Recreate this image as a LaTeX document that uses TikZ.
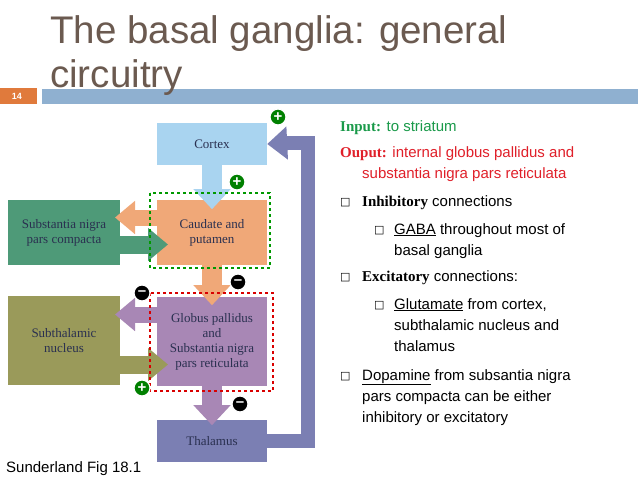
\documentclass[tikz,border=0pt]{standalone}
\usepackage{fontspec}
\setmainfont{Liberation Sans}
\newfontfamily\serifb{Liberation Serif}
\newfontfamily\dejav{DejaVu Sans}
\newcommand\myul[1]{\underline{#1}}
\usetikzlibrary{arrows.meta}
\definecolor{titlec}{HTML}{6B5A50}
\definecolor{barc}{HTML}{8FB0D0}
\definecolor{numc}{HTML}{E07A3C}
\definecolor{cortc}{HTML}{A9D4F0}
\definecolor{caudc}{HTML}{F0A878}
\definecolor{sncc}{HTML}{4E9A78}
\definecolor{gpc}{HTML}{A887B5}
\definecolor{stnc}{HTML}{9A9A5A}
\definecolor{thalc}{HTML}{7B7FB3}
\definecolor{txtg}{HTML}{1A9A4A}
\definecolor{txtr}{HTML}{E0202A}
\definecolor{labc}{HTML}{2A3050}
\begin{document}
\begin{tikzpicture}[x=1pt,y=-1pt,
  region/.style={draw=none,minimum width=110pt,align=center,inner sep=0pt,font=\serifb\fontsize{13}{15}\selectfont,text=labc},
  fat/.style={line width=20pt,-{Triangle[length=20pt,width=36pt]}},
  fatl/.style={line width=15pt,-{Triangle[length=20pt,width=32pt]}},
  plus/.style={circle,fill=green!50!black,draw=white,line width=1.2pt,minimum size=16pt,inner sep=0pt,text=white,font=\bfseries\fontsize{15}{15}\selectfont},
  minus/.style={circle,fill=black,draw=white,line width=1.2pt,minimum size=16pt,inner sep=0pt,text=white,font=\bfseries\fontsize{15}{15}\selectfont},
  txt/.style={anchor=base west,inner sep=0pt,font=\fontsize{15}{18}\selectfont},
  bul/.style={anchor=base west,inner sep=0pt,font=\dejav\fontsize{11}{12}\selectfont}]
\useasboundingbox (0,0) rectangle (638,479);
\fill[white] (0,0) rectangle (638,479);
% header
\node[anchor=base west,inner sep=0pt,text=titlec,font=\fontsize{38.5}{44}\selectfont] (t1) at (50,43) {The basal ganglia: general};
\fill[barc] (42,89) rectangle (638,104);
\fill[numc] (0,88) rectangle (37,104);
\node[text=white,font=\bfseries\fontsize{9}{9}\selectfont] (num) at (17,96.5) {14};
\node[anchor=base west,inner sep=0pt,text=titlec,font=\fontsize{38.5}{44}\selectfont] (t2) at (50,87) {circuitry};
% boxes
\node[region,fill=cortc,minimum height=42pt] (cortex) at (212,144) {Cortex};
\node[region,fill=caudc,minimum height=65pt] (caud) at (212,232.5) {Caudate and\\putamen};
\node[region,fill=sncc,minimum width=112pt,minimum height=65pt] (snc) at (64,232.5) {Substantia nigra\\pars compacta};
\node[region,fill=gpc,minimum height=89pt] (gp) at (212,341.5) {Globus pallidus\\and\\Substantia nigra\\pars reticulata};
\node[region,fill=stnc,minimum width=112pt,minimum height=89pt] (stn) at (64,340.5) {Subthalamic\\nucleus};
\node[region,fill=thalc,minimum height=42pt] (thal) at (212,441) {Thalamus};
% arrows
\coordinate (fb1) at (308,441);
\coordinate (fb2) at (308,143);
\draw[thalc,line width=14pt] (thal.east |- fb1) -- (fb1) -- (fb2) -- ++(-30,0);
\draw[thalc,line width=14pt,-{Triangle[length=20pt,width=32pt]}] (288,143) -- (cortex.east);
\draw[cortc,fat] (cortex.south) -- ++(0,44);
\draw[caudc,fat] (caud.south) -- ++(0,40);
\draw[gpc,fat] (gp.south) -- ++(0,39);
\draw[caudc,fatl,line width=16pt] ([yshift=15pt]caud.west) -- (115,217.5);
\draw[sncc,fatl,line width=18pt] ([yshift=-12pt]snc.east) -- (168,244.5);
\draw[gpc,fatl,line width=16pt] ([yshift=27pt]gp.west) -- (115,314.5);
\draw[stnc,fatl,line width=18pt] ([yshift=-24pt]stn.east) -- (168,364.5);
% dashed
\draw[green!60!black,dashed,line width=1.3pt] (150,193) rectangle (270,268);
\draw[red!85!black,dashed,line width=1.3pt] (150,293) rectangle (273,391);
% signs
\node[plus] (p1) at (278,117) {+};
\node[plus] (p2) at (237,182) {+};
\node[plus] (p3) at (142,388) {+};
\node[minus] (m1) at (238,282) {\raisebox{0.5pt}{--}};
\node[minus] (m2) at (142,293) {\raisebox{0.5pt}{--}};
\node[minus] (m3) at (240,404) {\raisebox{0.5pt}{--}};
% text
\node[txt,text=txtg] (l1) at (340,131) {{\serifb\bfseries Input:} to striatum};
\node[txt,text=txtr] (l2) at (340,157) {{\serifb\bfseries Ouput:} internal globus pallidus and};
\node[txt,text=txtr] (l3) at (362,178) {substantia nigra pars reticulata};
\node[bul] (b1) at (340,205) {□};
\node[txt] (l4) at (362,206) {{\serifb\bfseries Inhibitory} connections};
\node[bul] (b2) at (374,233) {□};
\node[txt] (l5) at (394,234) {\myul{GABA} throughout most of};
\node[txt] (l6) at (394,255) {basal ganglia};
\node[bul] (b3) at (340,280) {□};
\node[txt] (l7) at (362,281) {{\serifb\bfseries Excitatory} connections:};
\node[bul] (b4) at (374,308) {□};
\node[txt] (l8) at (394,309) {\myul{Glutamate} from cortex,};
\node[txt] (l9) at (394,330) {subthalamic nucleus and};
\node[txt] (l10) at (394,351) {thalamus};
\node[bul] (b5) at (340,379) {□};
\node[txt] (l11) at (362,380) {\myul{Dopamine} from subsantia nigra};
\node[txt] (l12) at (362,401) {pars compacta can be either};
\node[txt] (l13) at (362,422) {inhibitory or excitatory};
\node[txt] (src) at (6,472) {Sunderland Fig 18.1};
\end{tikzpicture}
\end{document}
